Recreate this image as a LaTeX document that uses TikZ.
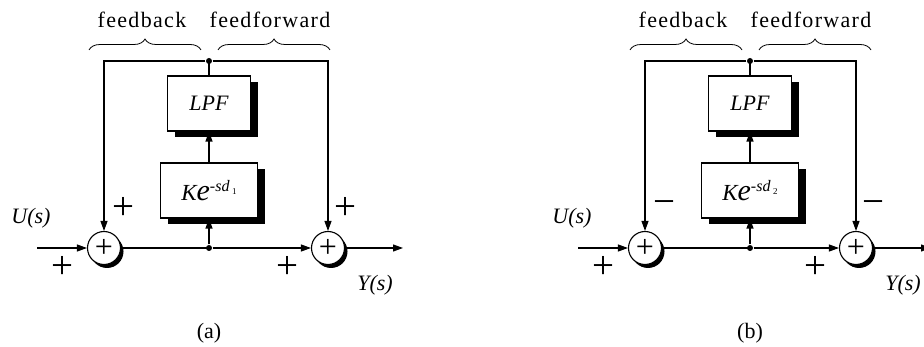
\documentclass[tikz,border=0pt]{standalone}
\usepackage{fontspec}
\setmainfont{Liberation Serif}
\newfontfamily\spacedfont[LetterSpace=6]{Liberation Serif}
\usetikzlibrary{arrows.meta,shadows,decorations.pathreplacing}

\begin{document}
\begin{tikzpicture}[x=1pt,y=-1pt,line width=1.1pt,
blk/.style={draw,fill=white,minimum height=55pt,font=\fontsize{22}{22}\selectfont\itshape,drop shadow={shadow xshift=7pt,shadow yshift=-6pt,opacity=1,fill=black}},
sum/.style={draw,circle,fill=white,minimum size=33pt,inner sep=0pt,font=\fontsize{32}{32}\selectfont,drop shadow={shadow xshift=3pt,shadow yshift=-3.5pt,opacity=1,fill=black}},
dot/.style={circle,fill=black,inner sep=0pt,minimum size=6pt},
sgn/.style={font=\fontsize{39}{39}\selectfont},
lbl/.style={font=\fontsize{22}{22}\selectfont},
arr/.style={-{Triangle[length=10pt,width=7pt]}},
brc/.style={decorate,decoration={brace,amplitude=11pt},line width=0.8pt}]
\useasboundingbox (0,0) rectangle (924,347);
\foreach \p/\dx/\sx/\sg/\dd/\cap in {a/0/328/+/1/(a),b/541/315/−/2/(b)}{
\begin{scope}[xshift=\dx pt]
% blocks and junctions
\node[blk,minimum width=83pt] (lpf\p) at (209,103.5) {LPF};
\node[blk,minimum width=97pt] (ke\p) at (209,190.5) {{\fontsize{23}{23}\selectfont K}{\fontsize{30}{30}\selectfont e}\raisebox{9pt}{\fontsize{16}{16}\selectfont -sd\,\raisebox{-3pt}{\fontsize{9}{9}\selectfont\upshape\dd}}};
\node[sum] (s1\p) at (104,248) {+};
\node[sum] (s2\p) at (\sx,248) {+};
\coordinate (in\p) at (37,248);
\coordinate (out\p) at (\sx+75,248);
% connectors
\draw[arr] (in\p) -- (s1\p);
\draw (s1\p) -- (209,248) node[dot] (j\p) {};
\draw[arr] (j\p) -- (s2\p);
\draw[arr] (s2\p) -- (out\p);
\draw[arr] (j\p) -- (ke\p);
\draw[arr] (ke\p) -- (lpf\p);
\draw (lpf\p) -- (209,61) node[dot] (t\p) {};
\draw[arr] (t\p) -| (s1\p);
\draw[arr] (t\p) -| (s2\p);
% signs and labels
\node[sgn] at (62,267) {+};
\node[sgn] at (123,208) {\sg};
\node[sgn] at (\sx+17,208) {\sg};
\node[sgn] at (\sx-41,267) {+};
\node[lbl] at (31,218) {\textit{U(s)}};
\node[lbl] at (\sx+47,285) {\textit{Y(s)}};
\node[lbl] at (209,333) {\cap};
\draw[brc] (89,50) -- (201,50);
\draw[brc] (218,50) -- (330,50);
\node[lbl,font=\fontsize{22}{22}\spacedfont] at (142,20) {feedback};
\node[lbl,font=\fontsize{22}{22}\spacedfont] at (270,20) {feedforward};
\end{scope}}
\end{tikzpicture}
\end{document}
